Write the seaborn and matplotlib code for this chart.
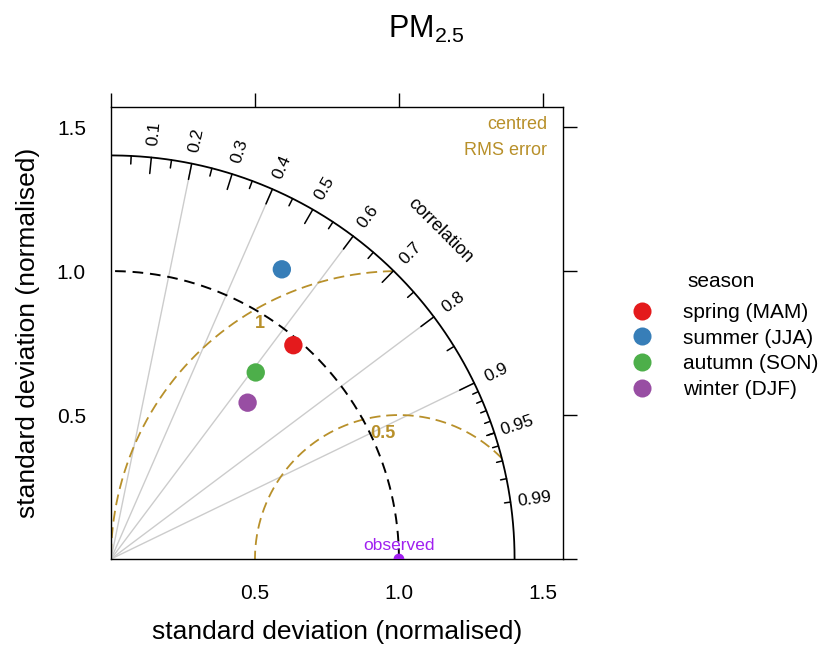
import numpy as np
import pandas as pd
import matplotlib
matplotlib.use("Agg")
import matplotlib.pyplot as plt
from matplotlib.lines import Line2D
import seaborn as sns

# ---- data -------------------------------------------------------------
seasons = ["spring (MAM)", "summer (JJA)", "autumn (SON)", "winter (DJF)"]
sd_norm = [0.976, 1.168, 0.820, 0.721]          # normalised standard deviation
correlation = [0.649, 0.508, 0.613, 0.658]      # correlation with observations
season_colours = ["#E41A1C", "#377EB8", "#4DAF4A", "#984EA3"]
obs_sd = 1.0

cor_ticks = [0.1, 0.2, 0.3, 0.4, 0.5, 0.6, 0.7, 0.8, 0.9, 0.95, 0.99]
cor_ticklabels = ["0.1", "0.2", "0.3", "0.4", "0.5", "0.6", "0.7", "0.8", "0.9", "0.95", "0.99"]
cor_gridlines = [0.2, 0.4, 0.6, 0.8, 0.9]
rms_levels = [0.5, 1.0]
rms_labels = ["0.5", "1"]
rms_label_pos = [(0.944, 0.437), (0.517, 0.819)]
axis_ticks = [0.0, 0.5, 1.0, 1.5]
axis_ticklabels = ["", "0.5", "1.0", "1.5"]

GOLD = "#B8902A"
OBS_COL = "#A020F0"

sns.set_style("white")
plt.rcParams["font.family"] = ["Liberation Sans", "DejaVu Sans"]
plt.rcParams["mathtext.fontset"] = "custom"
plt.rcParams["mathtext.rm"] = "Liberation Sans"
plt.rcParams["mathtext.default"] = "regular"
plt.rcParams["text.color"] = "black"
plt.rcParams["axes.labelcolor"] = "black"
plt.rcParams["xtick.color"] = "black"
plt.rcParams["ytick.color"] = "black"

df = pd.DataFrame({"season": seasons, "sd": sd_norm, "r": correlation})
df["x"] = df["sd"] * df["r"]
df["y"] = df["sd"] * np.sqrt(1 - df["r"] ** 2)

maxsd = 1.2 * max(max(sd_norm), obs_sd)
lim = 1.12 * maxsd

fig = plt.figure(figsize=(8.19, 6.48), dpi=100)
ax = fig.add_axes([111 / 819, 1 - 559 / 648, 452 / 819, 452 / 648])
ax.set_xlim(0, lim)
ax.set_ylim(0, lim)

# correlation rays
for c in cor_gridlines:
    th = np.arccos(c)
    ax.plot([0, maxsd * np.cos(th)], [0, maxsd * np.sin(th)], color="#CCCCCC", lw=1, zorder=1)

# centred RMS error arcs around the observed point, kept inside the outer arc
phi = np.linspace(0, np.pi, 2000)
for r in rms_levels:
    cx = obs_sd + r * np.cos(phi)
    cy = r * np.sin(phi)
    inside = cx ** 2 + cy ** 2 <= maxsd ** 2
    ax.plot(cx[inside], cy[inside], color=GOLD, lw=1.3, dashes=(6.0, 3.2), zorder=2)
for lab, (lx, ly) in zip(rms_labels, rms_label_pos):
    ax.text(lx, ly, lab, color=GOLD, fontsize=13, fontweight="bold", ha="center", va="center", zorder=3)

# standard deviation arcs
quarter = np.linspace(0, np.pi / 2, 500)
ax.plot(maxsd * np.cos(quarter), maxsd * np.sin(quarter), color="black", lw=1.3, zorder=3)
ax.plot(obs_sd * np.cos(quarter), obs_sd * np.sin(quarter), color="black", lw=1.4,
        dashes=(5.5, 3.5), zorder=3)

# correlation tick marks on the outer arc
big = np.arccos(np.arange(0.1, 0.91, 0.1))
med = np.arccos(np.arange(0.05, 0.96, 0.1))
small = np.arccos(np.arange(0.91, 0.995, 0.01))
for angles, frac in [(big, 0.96), (med, 0.98), (small, 0.985)]:
    for th in angles:
        ax.plot([maxsd * np.cos(th), frac * maxsd * np.cos(th)],
                [maxsd * np.sin(th), frac * maxsd * np.sin(th)], color="black", lw=1.1, zorder=3)

for c, lab in zip(cor_ticks, cor_ticklabels):
    th = np.arccos(c)
    ax.text(1.06 * maxsd * np.cos(th), 1.06 * maxsd * np.sin(th), lab, rotation=np.degrees(th),
            rotation_mode="anchor", ha="center", va="center", fontsize=12.5)
ax.text(1.152 * maxsd * np.cos(np.pi / 4), 1.152 * maxsd * np.sin(np.pi / 4), "correlation",
        rotation=-45, rotation_mode="anchor", ha="center", va="center", fontsize=13)

ax.text(1.514, 1.510, "centred", color=GOLD, ha="right", va="center", fontsize=13)
ax.text(1.514, 1.420, "RMS error", color=GOLD, ha="right", va="center", fontsize=13)

# observed reference
ax.scatter([obs_sd], [0], s=60, color=OBS_COL, edgecolor="none", zorder=6, clip_on=True)
ax.text(obs_sd, 0.022, "observed", color=OBS_COL, ha="center", va="bottom", fontsize=12.5, zorder=6)

# model points by season
sns.scatterplot(data=df, x="x", y="y", hue="season", palette=season_colours, s=175,
                edgecolor="none", ax=ax, zorder=5, legend=False)

handles = [Line2D([], [], marker="o", ls="", color=c, markeredgecolor="none", markersize=13)
           for c in season_colours]
fig.legend(handles, seasons, loc="upper left",
           bbox_to_anchor=(632 / 819, 1 - 303 / 648), frameon=False, fontsize=15,
           borderpad=0, borderaxespad=0, handlelength=1.0, handletextpad=1.45,
           labelspacing=0.32)
fig.text(721 / 819, 1 - 282 / 648, "season", fontsize=15, ha="center", va="center")

ax.set_xticks(axis_ticks)
ax.set_xticklabels(axis_ticklabels)
ax.set_yticks(axis_ticks)
ax.set_yticklabels(axis_ticklabels)
ax.tick_params(direction="out", length=10, width=1, top=True, right=True,
               labeltop=False, labelright=False, labelsize=15, pad=8, colors="black")
for sp in ax.spines.values():
    sp.set_color("black")
    sp.set_linewidth(1)

ax.set_xlabel("standard deviation (normalised)", fontsize=19, labelpad=12)
ax.set_ylabel("standard deviation (normalised)", fontsize=19, labelpad=12)

fig.text(388 / 819, 1 - 38 / 648, "PM$_{2.5}$", fontsize=22, ha="left", va="baseline")

fig.savefig("out.png", dpi=100)
